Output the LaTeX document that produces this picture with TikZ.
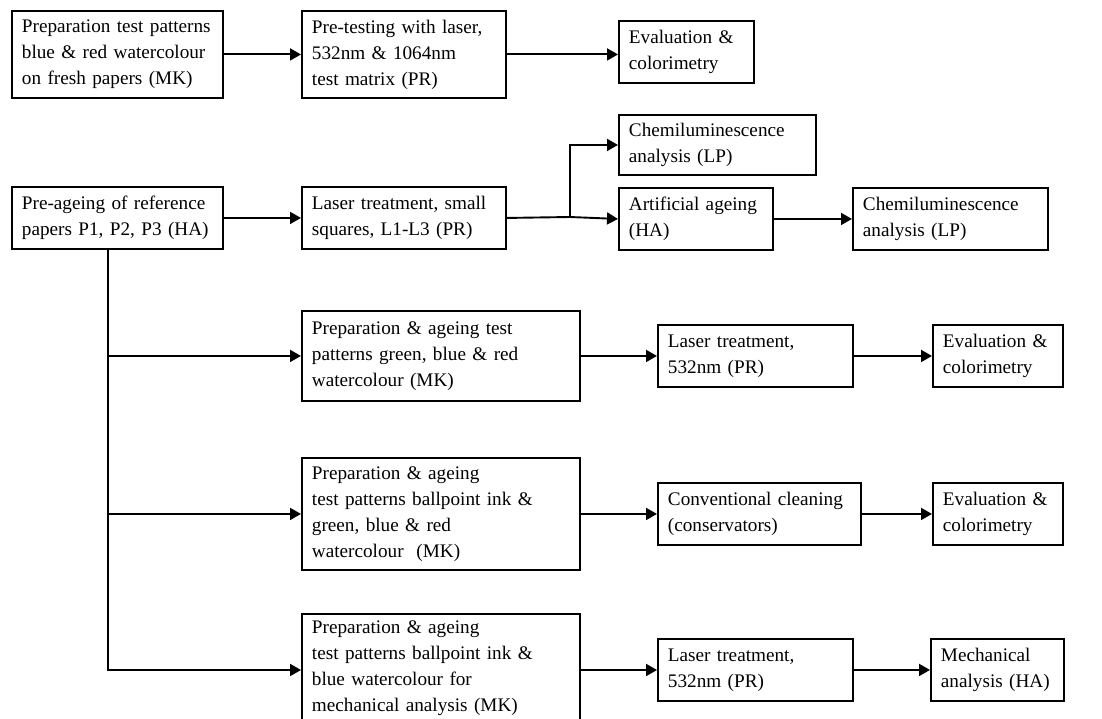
\documentclass[tikz,border=0pt]{standalone}
\usepackage{fontspec}
\setmainfont{Liberation Serif}
\usetikzlibrary{arrows.meta}
\tikzset{box/.style = {draw, rectangle, anchor=north west, align=left,
    inner xsep=10pt, inner ysep=0pt, font=\fontsize{19.2pt}{26pt}\selectfont}}
\tikzset{arr/.style = {-{Triangle[length=11pt, width=12pt]}}}

\begin{document}
\begin{tikzpicture}[x=1pt, y=-1pt, every path/.style={line width=1.9pt}]
  \useasboundingbox (0,0) rectangle (1102,719);
  % first series
  \node[box, text width=191pt, minimum height=87pt] (prep) at (11,10)
    {Preparation test patterns\\blue \& red watercolour\\on fresh papers (MK)};
  \node[box, text width=184pt, minimum height=87pt] (pretest) at (301,10)
    {Pre-testing with laser,\\532nm \& 1064nm\\test matrix (PR)};
  \node[box, text width=115pt, minimum height=62pt] (eval1) at (618,20)
    {Evaluation \&\\colorimetry};
  % reference papers
  \node[box, text width=191pt, minimum height=62pt] (preage) at (11,186)
    {Pre-ageing of reference\\papers P1, P2, P3 (HA)};
  \node[box, text width=184pt, minimum height=62pt] (laser1) at (301,186)
    {Laser treatment, small\\squares, L1-L3 (PR)};
  \node[box, text width=177pt, minimum height=60pt] (chemi1) at (618,114)
    {Chemiluminescence\\analysis (LP)};
  \node[box, text width=134pt, minimum height=62pt] (artage) at (618,187)
    {Artificial ageing\\(HA)};
  \node[box, text width=175pt, minimum height=62pt] (chemi2) at (852,187)
    {Chemiluminescence\\analysis (LP)};
  % watercolour patterns
  \node[box, text width=258pt, minimum height=90pt] (prepg) at (301,310)
    {Preparation \& ageing test\\patterns green, blue \& red\\watercolour (MK)};
  \node[box, text width=175pt, minimum height=62pt] (laser2) at (657,324)
    {Laser treatment,\\532nm (PR)};
  \node[box, text width=110pt, minimum height=62pt] (eval2) at (932,324)
    {Evaluation \&\\colorimetry};
  % ballpoint ink
  \node[box, text width=258pt, minimum height=112pt] (prepb) at (301,457)
    {Preparation \& ageing\\test patterns ballpoint ink \&\\green, blue \& red\\watercolour~ (MK)};
  \node[box, text width=183pt, minimum height=62pt] (conv) at (657,482)
    {Conventional cleaning\\(conservators)};
  \node[box, text width=110pt, minimum height=62pt] (eval3) at (932,482)
    {Evaluation \&\\colorimetry};
  % mechanical analysis
  \node[box, text width=258pt, minimum height=108pt] (prepm) at (301,613)
    {Preparation \& ageing\\test patterns ballpoint ink \&\\blue watercolour for\\mechanical analysis (MK)};
  \node[box, text width=175pt, minimum height=62pt] (laser3) at (657,638)
    {Laser treatment,\\532nm (PR)};
  \node[box, text width=113pt, minimum height=62pt] (mech) at (930,638)
    {Mechanical\\analysis (HA)};

  \coordinate (split) at (570,217);
  \coordinate (trunk) at (108,670);

  \draw[arr] (prep) -- (pretest);
  \draw[arr] (pretest.east) -- (pretest.east -| eval1.west);
  \draw[arr] (preage.east) -- (preage.east -| laser1.west);
  \draw (laser1.east) -- (split);
  \draw[arr] (split) -- (artage.west);
  \draw[arr] (split) |- (chemi1.west);
  \draw[arr] (artage) -- (chemi2);
  \draw[arr] (preage.south -| trunk) -- (trunk) -- (trunk -| prepm.west);
  \draw[arr] (trunk |- prepg.west) -- (prepg.west);
  \draw[arr] (trunk |- prepb.west) -- (prepb.west);
  \draw[arr] (prepg.east) -- (prepg.east -| laser2.west);
  \draw[arr] (laser2) -- (eval2);
  \draw[arr] (prepb.east) -- (prepb.east -| conv.west);
  \draw[arr] (conv) -- (eval3);
  \draw[arr] (trunk -| prepm.east) -- (trunk -| laser3.west);
  \draw[arr] (laser3) -- (mech);
\end{tikzpicture}
\end{document}
